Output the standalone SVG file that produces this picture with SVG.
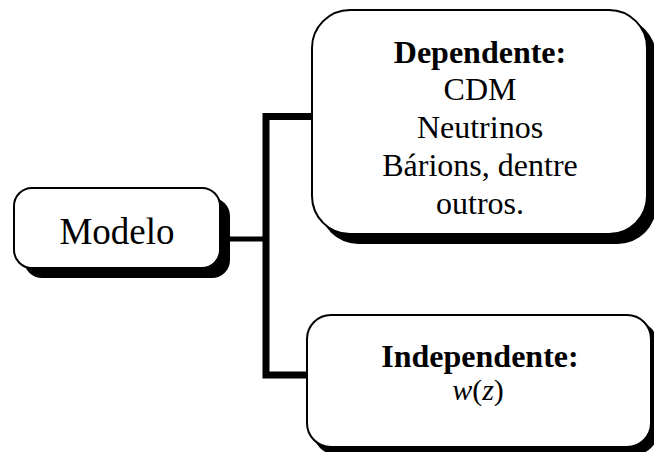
<svg xmlns="http://www.w3.org/2000/svg" width="654" height="452" viewBox="0 0 654 452">
<style>
.shadow{fill:#000;}
.box{fill:#fff;stroke:#000;stroke-width:2;}
.t{font-family:"Liberation Serif","Times New Roman",serif;font-size:32px;fill:#000;text-anchor:middle;}
.b{font-weight:bold;}
.conn{stroke:#000;fill:none;stroke-linecap:butt;stroke-linejoin:miter;}
</style>
<rect width="654" height="452" fill="#fff"/>
<g id="connectors">
<line class="conn" x1="222" y1="239" x2="266" y2="239" stroke-width="5"/>
<polyline class="conn" points="314,116.5 266,116.5 266,375 309,375" stroke-width="7"/>
</g>
<g id="modelo">
<rect class="shadow" x="24" y="198" width="206" height="80" rx="18"/>
<rect class="box" x="14" y="188" width="206" height="80" rx="18"/>
<text class="t" x="117" y="244" style="font-size:37px">Modelo</text>
</g>
<g id="dependente">
<rect class="shadow" x="320" y="18" width="336" height="226" rx="38"/>
<rect class="box" x="312" y="10" width="335" height="224" rx="38"/>
<text class="t b" x="480" y="63">Dependente:</text>
<text class="t" x="480" y="100">CDM</text>
<text class="t" x="480" y="138">Neutrinos</text>
<text class="t" x="480" y="176">Bárions, dentre</text>
<text class="t" x="480" y="214">outros.</text>
</g>
<g id="independente">
<rect class="shadow" x="313" y="321" width="345" height="134" rx="24"/>
<rect class="box" x="307" y="315" width="344" height="132" rx="24"/>
<text class="t b" x="480" y="367">Independente:</text>
<text class="t" x="478" y="400" style="font-size:30px"><tspan font-style="italic">w</tspan>(<tspan font-style="italic">z</tspan>)</text>
</g>
</svg>
